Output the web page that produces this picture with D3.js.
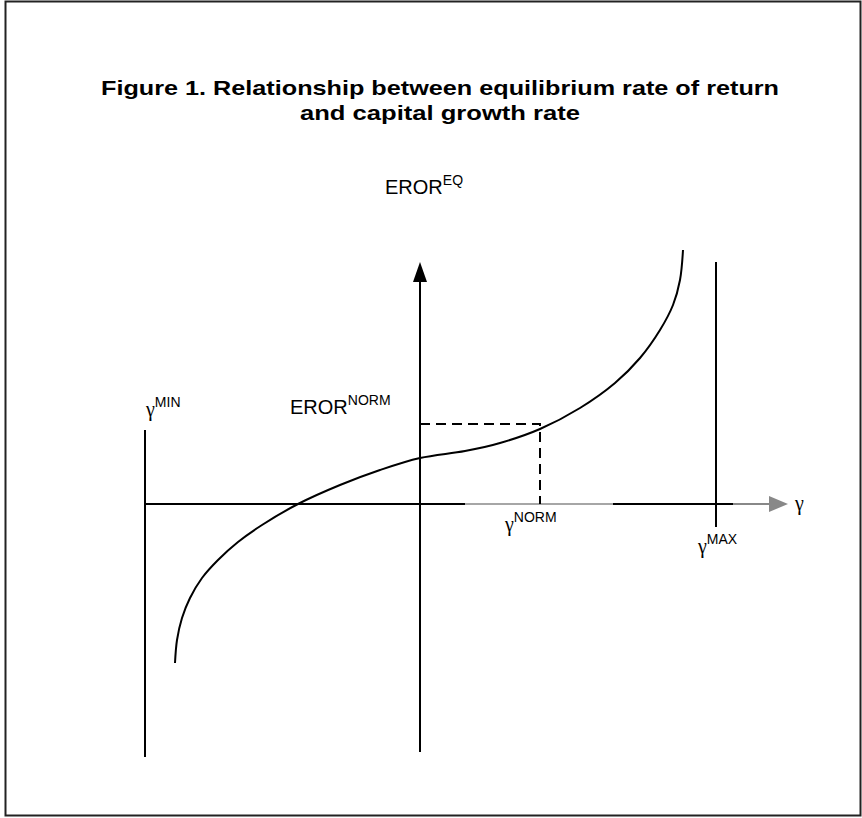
<!DOCTYPE html>
<html>
<head>
<meta charset="utf-8">
<script src="https://cdn.jsdelivr.net/npm/d3@7"></script>
<style>
  body { margin: 0; background: #fff; }
  svg { display: block; }
  text { font-family: "Liberation Sans", Arial, sans-serif; fill: #000; }
  .gamma { font-family: "Liberation Serif", "Times New Roman", serif; }
</style>
</head>
<body>
<div id="graph-area"></div>
<script>
// title lines and their widths in the original
const TITLE_LINES = [
  'Figure 1. Relationship between equilibrium rate of return',
  'and capital growth rate'
]
const TITLE_WIDTHS = [678, 280]

// the curve (gamma, EROR^EQ)
const curveGamma = [-2.45, -2.43, -2.38, -2.30, -2.18, -2.02, -1.82, -1.58, -1.22, -0.80, -0.40, 0.00, 0.45, 0.80, 1.20, 1.60, 1.95, 2.20, 2.40, 2.53, 2.60, 2.63]
const curveEror = [-1.59, -1.36, -1.14, -0.94, -0.74, -0.56, -0.38, -0.21, 0.00, 0.19, 0.34, 0.46, 0.53, 0.61, 0.75, 0.96, 1.21, 1.46, 1.74, 1.99, 2.24, 2.54]

// reference values on the axes
const GAMMA_MIN = -2.75
const GAMMA_MAX = 2.96
const GAMMA_NORM = 1.2
const EROR_NORM = 0.8

var width = 862
var height = 818

var svg = d3
  .select('#graph-area')
  .append('svg')
  .attr('width', width)
  .attr('height', height)

// frame
svg.append('rect')
  .attr('x', 5.5).attr('y', 1.5)
  .attr('width', 855).attr('height', 814)
  .attr('fill', 'none')
  .attr('stroke', '#222')
  .attr('stroke-width', 2)

// title (the original is a bit wide, so stretch to its width)
svg.selectAll('.title')
  .data(TITLE_LINES)
  .enter()
  .append('text')
  .classed('title', true)
  .attr('x', 440)
  .attr('y', (d, i) => 95 + i * 25)
  .attr('text-anchor', 'middle')
  .attr('textLength', (d, i) => TITLE_WIDTHS[i])
  .attr('lengthAdjust', 'spacingAndGlyphs')
  .style('font-size', '21px')
  .style('font-weight', 'bold')
  .text(d => d)

// scales
var xScale = d3.scaleLinear().domain([GAMMA_MIN, GAMMA_MAX]).range([145, 716])
var yScale = d3.scaleLinear().domain([-2.6, 2.6]).range([764, 244])

var g = svg.append('g')

// x axis, drawn in pieces like the original (some parts grey)
const xAxisParts = [
  [GAMMA_MIN, 0.45, '#000', 2],
  [0.45, 1.93, '#888', 1.5],
  [1.93, 3.13, '#000', 2],
  [3.13, 3.52, '#888', 2]
]
g.selectAll('.xaxis')
  .data(xAxisParts)
  .enter()
  .append('line')
  .attr('x1', d => xScale(d[0]))
  .attr('x2', d => xScale(d[1]))
  .attr('y1', yScale(0))
  .attr('y2', yScale(0))
  .attr('stroke', d => d[2])
  .attr('stroke-width', d => d[3])

// grey arrow head on x axis
var xEnd = xScale(3.68)
g.append('path')
  .attr('d', `M${xEnd},${yScale(0)} L${xEnd - 19},${yScale(0) - 8} L${xEnd - 19},${yScale(0) + 8} Z`)
  .attr('fill', '#888')

// y axis
g.append('line')
  .attr('x1', xScale(0)).attr('x2', xScale(0))
  .attr('y1', yScale(-2.48)).attr('y2', yScale(2.25))
  .attr('stroke', '#000').attr('stroke-width', 2)

var yTop = yScale(2.42)
g.append('path')
  .attr('d', `M${xScale(0)},${yTop} L${xScale(0) - 7},${yTop + 20} L${xScale(0) + 7},${yTop + 20} Z`)
  .attr('fill', '#000')

// gamma min / max lines
g.append('line')
  .attr('x1', xScale(GAMMA_MIN)).attr('x2', xScale(GAMMA_MIN))
  .attr('y1', yScale(0.74)).attr('y2', yScale(-2.53))
  .attr('stroke', '#000').attr('stroke-width', 2)

g.append('line')
  .attr('x1', xScale(GAMMA_MAX)).attr('x2', xScale(GAMMA_MAX))
  .attr('y1', yScale(2.42)).attr('y2', yScale(-0.23))
  .attr('stroke', '#000').attr('stroke-width', 2)

// dashed guide to the norm point
g.append('path')
  .attr('d', `M${xScale(0)},${yScale(EROR_NORM)} H${xScale(GAMMA_NORM)} V${yScale(0)}`)
  .attr('fill', 'none')
  .attr('stroke', '#000')
  .attr('stroke-width', 2)
  .attr('stroke-dasharray', '10,6')

// the curve
var curveData = curveGamma.map((v, i) => ({ gamma: v, eror: curveEror[i] }))
var line = d3.line()
  .x(d => xScale(d.gamma))
  .y(d => yScale(d.eror))
  .curve(d3.curveCatmullRom.alpha(0.5))

g.append('path')
  .datum(curveData)
  .attr('d', line)
  .attr('fill', 'none')
  .attr('stroke', '#000')
  .attr('stroke-width', 2)

// labels: main text plus superscript
function label(x, y, main, sup, isGamma, size) {
  var t = svg.append('text').attr('x', x).attr('y', y)
  t.append('tspan')
    .attr('class', isGamma ? 'gamma' : null)
    .style('font-size', size + 'px')
    .text(main)
  if (sup) {
    t.append('tspan')
      .attr('dy', -9)
      .style('font-size', '14px')
      .text(sup)
  }
}

label(xScale(0) - 35, 194, 'EROR', 'EQ', false, 20)
label(xScale(0) - 130, yScale(EROR_NORM) - 10, 'EROR', 'NORM', false, 20)
label(xScale(GAMMA_MIN) + 1, yScale(0.74) - 14, 'γ', 'MIN', true, 20)
label(xScale(GAMMA_NORM) - 35, yScale(0) + 27, 'γ', 'NORM', true, 20)
label(xScale(GAMMA_MAX) - 18, yScale(0) + 49, 'γ', 'MAX', true, 20)
label(xScale(3.75), yScale(0) + 6, 'γ', null, true, 20)
</script>
</body>
</html>
